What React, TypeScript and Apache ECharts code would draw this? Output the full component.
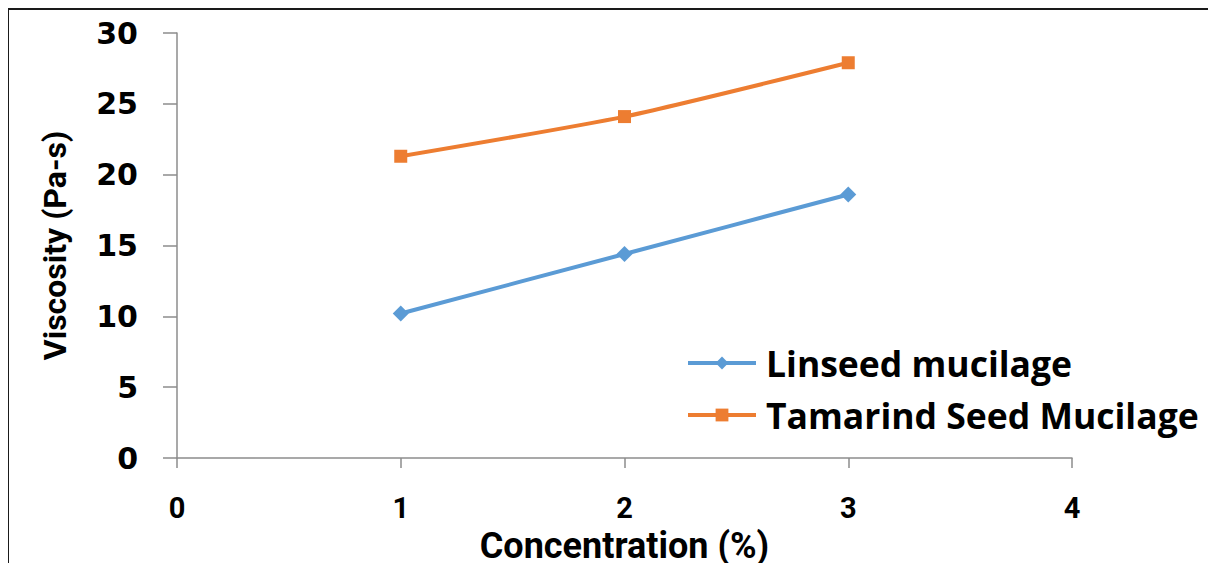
import React, { useEffect, useRef } from "react";
import * as echarts from "echarts";

// Concentration (%) on the x axis, viscosity (Pa-s) on the y axis
const concentration = [1, 2, 3];
const linseed = [10.2, 14.4, 18.6];
const tamarind = [21.3, 24.1, 27.9];
const seriesNames = ["Linseed mucilage", "Tamarind Seed Mucilage"];

export default function App() {
  const ref = useRef<HTMLDivElement>(null);

  useEffect(() => {
    if (!ref.current) return;
    const chart = echarts.init(ref.current, null, { renderer: "svg" });
    const axisColor = "#8c8c8c";
    chart.setOption({
      animation: false,
      backgroundColor: "#ffffff",
      grid: { left: 177, right: 144, top: 33, bottom: 113, containLabel: false },
      xAxis: {
        type: "value",
        min: 0,
        max: 4,
        interval: 1,
        name: "Concentration (%)",
        nameLocation: "middle",
        nameGap: 70,
        nameTextStyle: {
          fontFamily: "Roboto",
          fontWeight: "bold",
          fontSize: 36,
          color: "#000",
        },
        axisLine: { show: true, lineStyle: { color: axisColor, width: 1.5 } },
        axisTick: { show: true, length: 10, lineStyle: { color: axisColor, width: 1.5 } },
        splitLine: { show: false },
        axisLabel: {
          margin: 35,
          fontFamily: "Roboto",
          fontWeight: "bold",
          fontSize: 29,
          color: "#000",
        },
      },
      yAxis: {
        type: "value",
        min: 0,
        max: 30,
        interval: 5,
        name: "Viscosity (Pa-s)",
        nameLocation: "middle",
        nameGap: 106,
        nameRotate: 90,
        nameTextStyle: {
          fontFamily: "Roboto",
          fontWeight: "bold",
          fontSize: 32,
          color: "#000",
        },
        axisLine: { show: true, lineStyle: { color: axisColor, width: 1.5 } },
        axisTick: { show: true, length: 14, lineStyle: { color: axisColor, width: 1.5 } },
        splitLine: { show: false },
        axisLabel: {
          margin: 39,
          fontFamily: "DejaVu Sans",
          fontWeight: "bold",
          fontSize: 30,
          color: "#000",
        },
      },
      legend: {
        orient: "vertical",
        left: 686,
        top: 345,
        padding: 0,
        itemWidth: 68,
        itemHeight: 16,
        itemGap: 16,
        data: seriesNames,
        lineStyle: { width: 4 },
        textStyle: {
          fontFamily: "Open Sans",
          fontWeight: "bold",
          fontSize: 35.5,
          lineHeight: 35,
          color: "#000",
          padding: [0, 0, 0, 5],
        },
      },
      graphic: [
        {
          type: "line",
          shape: { x1: 8, y1: 9, x2: 1216, y2: 9 },
          style: { stroke: "#1a1a1a", lineWidth: 2 },
        },
        {
          type: "line",
          shape: { x1: 8, y1: 9, x2: 8, y2: 571 },
          style: { stroke: "#1a1a1a", lineWidth: 2 },
        },
      ],
      series: [
        {
          name: seriesNames[0],
          type: "line",
          smooth: 0.2,
          data: concentration.map((c, i) => [c, linseed[i]]),
          symbol: "diamond",
          symbolSize: 16,
          lineStyle: { color: "#5b9bd5", width: 4 },
          itemStyle: { color: "#5b9bd5" },
        },
        {
          name: seriesNames[1],
          type: "line",
          smooth: 0.2,
          data: concentration.map((c, i) => [c, tamarind[i]]),
          symbol: "rect",
          symbolSize: 13,
          lineStyle: { color: "#ed7d31", width: 4 },
          itemStyle: { color: "#ed7d31" },
        },
      ],
    });
    return () => chart.dispose();
  }, []);

  return <div ref={ref} style={{ width: 1216, height: 571, margin: -8 }} />;
}
